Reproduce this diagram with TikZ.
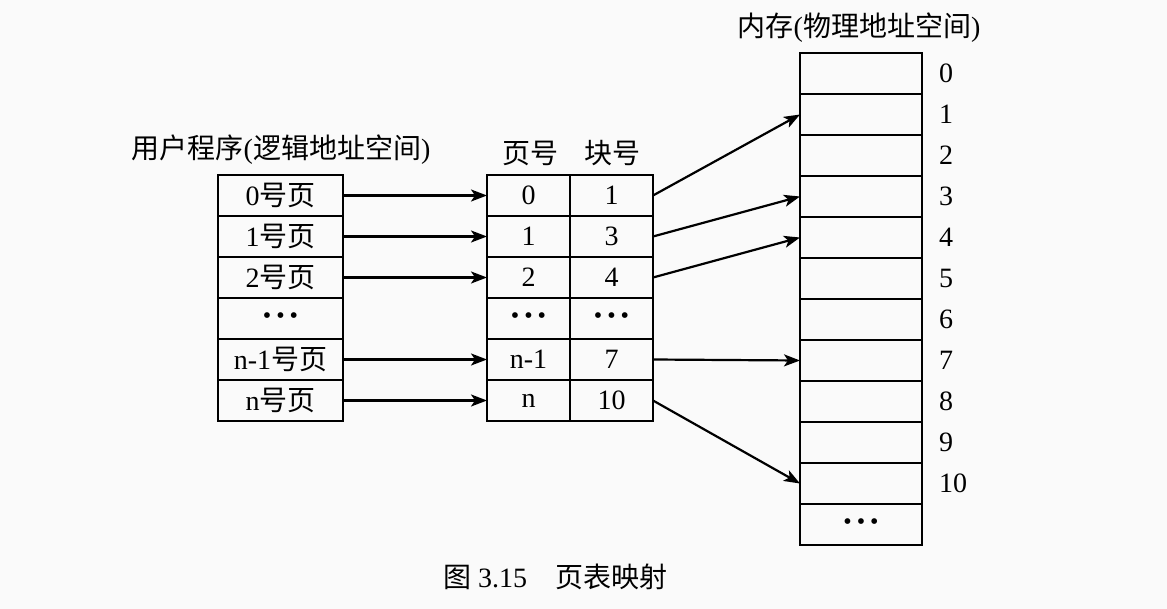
\documentclass[tikz,border=0pt]{standalone}
\usepackage{fontspec}
\setmainfont{Liberation Serif}
\newfontfamily\cjk{Noto Sans CJK SC}
\newcommand{\zhtxt}[1]{{\cjk #1}}
\newcommand{\dotsrow}{\raisebox{-1.5pt}{\large\textbullet\hspace{2.5pt}\textbullet\hspace{2.5pt}\textbullet}}
\usetikzlibrary{positioning,arrows.meta}

\begin{document}
\begin{tikzpicture}[x=0.5pt, y=-0.5pt, font=\fontsize{14}{16}\selectfont,
  cell/.style={draw, line width=1.2pt, inner sep=0pt, outer sep=0pt, minimum height=20.5pt},
  pagecell/.style={cell, minimum width=62.5pt},
  tabcell/.style={cell, minimum width=41.5pt},
  memcell/.style={cell, minimum width=61pt},
  maparrow/.style={-{Stealth[length=8pt,width=6pt,inset=2pt]}, line width=1.1pt}]
% Background and page size
\fill[gray!4] (0,0) rectangle (1167,609);
\useasboundingbox (0,0) rectangle (1167,609);

% User program (logical pages)
\node (progtitle) at (281,150) {\zhtxt{用户程序}(\zhtxt{逻辑地址空间})};
\foreach \i/\t in {0/{0\zhtxt{号页}}, 1/{1\zhtxt{号页}}, 2/{2\zhtxt{号页}},
                   3/{\dotsrow}, 4/{n-1\zhtxt{号页}}, 5/{n\zhtxt{号页}}} {
    \node[pagecell] (pg\i) at (280.5,195.5+41*\i) {\t};
}

% Page table: page number / frame number
\node (pnhead) at (530,153) {\zhtxt{页号}};
\node (fnhead) at (612,153) {\zhtxt{块号}};
\foreach \i/\p/\f in {0/0/1, 1/1/3, 2/2/4, 3/{\dotsrow}/{\dotsrow}, 4/n-1/7, 5/n/10} {
    \node[tabcell] (pn\i) at (528.5,195.5+41*\i) {\p};
    \node[tabcell, right=0pt of pn\i] (fn\i) {\f};
}

% Memory (physical frames)
\node (memtitle) at (859,28) {\zhtxt{内存}(\zhtxt{物理地址空间})};
\foreach \i in {0,...,10} {
    \node[memcell] (mem\i) at (861,73.5+41*\i) {};
    \node[right=5pt of mem\i] (addr\i) {\i};
}
\node[memcell] (mem11) at (861,73.5+41*11) {\dotsrow};

% Pages to page table entries
\foreach \i in {0,1,2,4,5} {
    \draw[maparrow] (pg\i) -- (pn\i);
}
% Page table entries to frames
\foreach \i/\m in {0/1, 1/3, 2/4, 4/7, 5/10} {
    \draw[maparrow] (fn\i.east) -- (mem\m.west);
}

% Caption
\node (caption) at (555,577) {\zhtxt{图} 3.15\quad\zhtxt{页表映射}};
\end{tikzpicture}
\end{document}
